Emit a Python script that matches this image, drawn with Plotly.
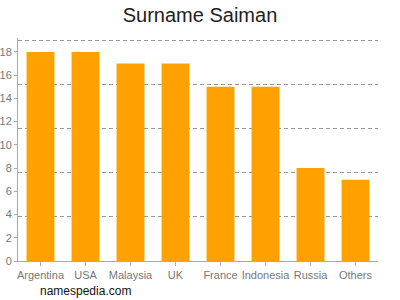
import plotly.graph_objects as go

categories = ["Argentina", "USA", "Malaysia", "UK", "France", "Indonesia", "Russia", "Others"]
values = [18, 18, 17, 17, 15, 15, 8, 7]
y_ticks = [0, 2, 4, 6, 8, 10, 12, 14, 16, 18]
grid_vals = [3.8, 7.6, 11.4, 15.2, 19.0]
y_max = 19.2

fig = go.Figure()
fig.add_trace(go.Bar(x=categories, y=values, marker=dict(color="#ffa200", line=dict(width=0)),
                     hoverinfo="skip"))
fig.add_trace(go.Scatter(x=categories, y=values, yaxis="y2", mode="markers",
                         marker=dict(opacity=0), hoverinfo="skip", showlegend=False))

fig.update_layout(
    width=400, height=300,
    margin=dict(l=18, r=22, t=38, b=39),
    paper_bgcolor="white", plot_bgcolor="white",
    showlegend=False, bargap=0.38,
    font=dict(family="Liberation Sans, Arial, sans-serif", color="#777"),
    title=dict(text="Surname Saiman", x=0.5, xanchor="center", y=0.95, yanchor="middle",
               font=dict(size=20, color="#222")),
    xaxis=dict(showline=True, linecolor="#aaa", linewidth=1, ticks="outside", ticklen=4,
               tickcolor="#aaa", tickfont=dict(size=11, color="#777"), showgrid=False,
               tickangle=0, automargin=False),
    yaxis=dict(range=[0, y_max], tickvals=y_ticks, showline=True, linecolor="#aaa", linewidth=1,
               ticks="outside", ticklen=3, tickcolor="#aaa", tickfont=dict(size=11, color="#777"),
               showgrid=False, zeroline=False, automargin=False),
    yaxis2=dict(range=[0, y_max], overlaying="y", tickvals=grid_vals, showticklabels=False,
                showgrid=True, gridcolor="#999", griddash="4px,3px", gridwidth=1, zeroline=False,
                showline=False, ticks="", automargin=False),
)
fig.add_annotation(text="namespedia.com", xref="paper", yref="paper", x=0.055, y=-0.135,
                   xanchor="left", yanchor="middle", showarrow=False,
                   font=dict(size=12, color="#111"))
fig.write_html("out.html")
